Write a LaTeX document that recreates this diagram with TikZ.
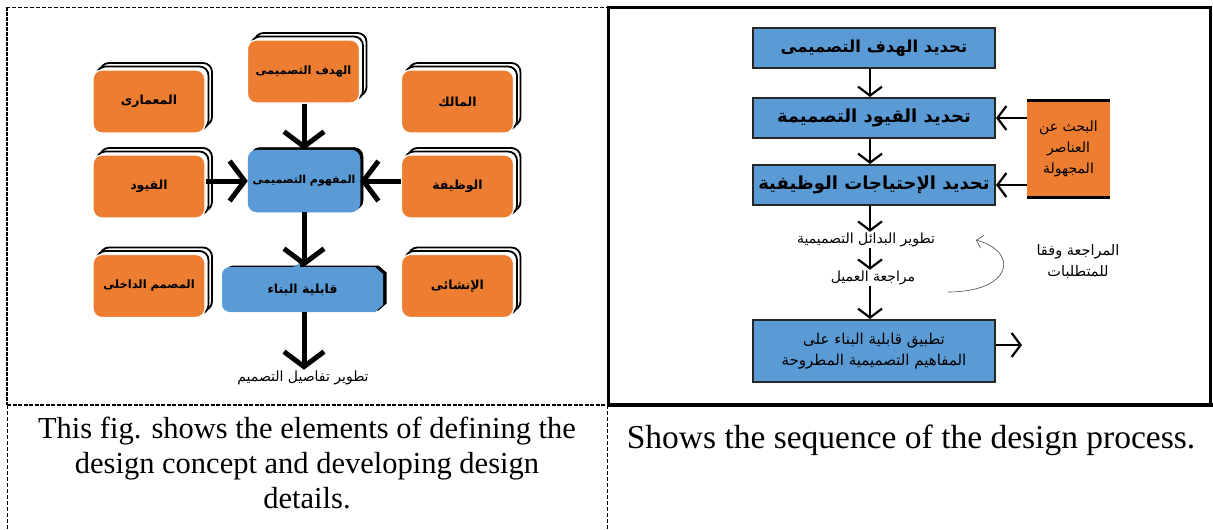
\documentclass[tikz,border=0pt]{standalone}
\usepackage{fontspec}
\setmainfont{Liberation Serif}
\newfontfamily\arabicfont[Script=Arabic]{DejaVu Sans}
\TeXXeTstate=1
\usetikzlibrary{arrows.meta,shadows}
\newcommand\artxt[1]{{\arabicfont\beginR #1\endR}}
\newcommand\arbtxt[1]{{\arabicfont\bfseries\beginR #1\endR}}
\definecolor{orng}{HTML}{ED7D31}
\definecolor{blu}{HTML}{5B9BD5}
\begin{document}
\begin{tikzpicture}[x=1pt,y=-1pt,
  obox/.style={rounded corners=9pt, fill=orng, draw=white, line width=1.2pt,
    minimum width=112pt, minimum height=63pt, inner sep=0pt,
    font=\fontsize{12.5}{16}\selectfont,
    double copy shadow={shadow xshift=3.5pt, shadow yshift=3.5pt, fill=white, draw=black, line width=1.8pt}},
  bbox/.style={rounded corners=9pt, fill=blu, draw=blu, line width=0.5pt,
    minimum width=112pt, minimum height=62pt, inner sep=0pt,
    font=\fontsize{11}{16}\selectfont,
    copy shadow={shadow xshift=3pt, shadow yshift=2.5pt, fill=black, draw=black}},
  cbox/.style={minimum width=161pt, minimum height=45pt, inner sep=0pt,
    font=\fontsize{12.5}{16}\selectfont},
  rbox/.style={fill=blu, draw=black!85, line width=2pt,
    minimum width=242pt, minimum height=40pt, inner sep=0pt,
    font=\fontsize{18}{21}\selectfont, align=center},
  orbox/.style={fill=orng, minimum width=83pt, minimum height=96pt, inner sep=0pt,
    font=\fontsize{14}{21}\selectfont, align=center},
  txt/.style={inner sep=1pt, font=\fontsize{14}{20}\selectfont, align=center},
  bigarr/.style={line width=5pt, -{Straight Barb[length=15pt,width=40pt]}},
  smallarr/.style={line width=2.2pt, -{Straight Barb[length=9pt,width=24pt]}},
  captxt/.style={align=center, inner sep=0pt}
]
\useasboundingbox[fill=white] (0,0) rectangle (1213,530);

% ---------- left diagram ----------
\node[obox] (arch)   at (149,101.5)   {\arbtxt{المعمارى}};
\node[obox, font=\fontsize{11.5}{16}\selectfont] (goal) at (303.5,71.5) {\arbtxt{الهدف التصميمى}};
\node[obox] (owner)  at (457.5,101.5) {\arbtxt{المالك}};
\node[obox] (cons)   at (149,186.5)   {\arbtxt{القيود}};
\node[bbox] (concept) at (304,181)    {\arbtxt{المفهوم التصميمى}};
\node[obox] (func)   at (457.5,186.5) {\arbtxt{الوظيفة}};
\node[obox, font=\fontsize{11.5}{16}\selectfont] (inter) at (149,286) {\arbtxt{المصمم الداخلى}};
\node[obox] (struct) at (457.5,286)   {\arbtxt{الإنشائى}};
% chamfered blue box (rounded left corners, cut right corners) with black shadow
\begin{scope}[xshift=3.5pt, yshift=1.5pt]
  \fill[black] (300,267) -- (375,267) -- (383,274) -- (383,305) -- (375,312) -- (300,312)
    [rounded corners=8pt] -- (222,312) -- (222,267) -- (300,267) [sharp corners] -- cycle;
\end{scope}
\fill[blu] (300,267) -- (375,267) -- (383,274) -- (383,305) -- (375,312) -- (300,312)
    [rounded corners=8pt] -- (222,312) -- (222,267) -- (300,267) [sharp corners] -- cycle;
\node[cbox] (build)  at (302.5,289.5) {\arbtxt{قابلية البناء}};
\node[txt]  (detail) at (303,378)     {\artxt{تطوير تفاصيل التصميم}};

\draw[bigarr] (goal.south -| concept.north) -- (concept.north);
\draw[bigarr] (cons.east |- concept.west) -- (concept.west);
\draw[bigarr] (func.west |- concept.east) -- (concept.east);
\draw[bigarr] (concept.south) -- (build.north -| concept.south);
\draw[bigarr] (build.south -| concept.south) -- (detail.north -| concept.south);

% ---------- right diagram ----------
\coordinate (ax) at (870,0);
\node[rbox, font=\fontsize{16.5}{20}\selectfont] (r1) at (874,48) {\arbtxt{تحديد الهدف التصميمى}};
\node[rbox] (r2) at (874,118) {\arbtxt{تحديد القيود التصميمة}};
\node[rbox] (r3) at (874,185) {\arbtxt{تحديد الإحتياجات الوظيفية}};
\node[txt]  (r4) at (866,240) {\artxt{تطوير البدائل التصميمية}};
\node[txt]  (r5) at (873,278) {\artxt{مراجعة العميل}};
\node[rbox, minimum height=62pt, font=\fontsize{15}{21}\selectfont] (r6) at (874,351)
  {\artxt{تطبيق قابلية البناء على}\\\artxt{المفاهيم التصميمية المطروحة}};
\node[orbox] (search) at (1068.5,149) {\artxt{البحث عن}\\\artxt{العناصر}\\\artxt{المجهولة}};
\draw[line width=3pt] (search.north west) -- (search.north east);
\draw[line width=3pt] (search.south west) -- (search.south east);
\node[txt, font=\fontsize{14.5}{21}\selectfont] (review) at (1078,262) {\artxt{المراجعة وفقا}\\\artxt{للمتطلبات}};

\draw[smallarr] (r1.south -| ax) -- (r2.north -| ax);
\draw[smallarr] (r2.south -| ax) -- (r3.north -| ax);
\draw[smallarr] (r3.south -| ax) -- (r4.north -| ax);
\draw[smallarr] (r4.south -| ax) -- (r5.north -| ax);
\draw[smallarr] (r5.south -| ax) -- (r6.north -| ax);
\draw[smallarr] (search.west |- r2.east) -- (r2.east);
\draw[smallarr] (search.west |- r3.east) -- (r3.east);
\coordinate (out) at (1022,345);
\draw[smallarr] (r6.east |- out) -- (out);
\coordinate (cs) at (948,292);
\coordinate (ce) at (976,240);
\draw[line width=0.6pt, black!70, -{Straight Barb[length=6pt,width=13pt]}]
  (cs) .. controls (1012,292) and (1020,252) .. (ce);

% ---------- table borders ----------
\draw[line width=0.8pt, dash pattern=on 4pt off 2pt] (6,7) -- (607,7);
\draw[line width=2pt, dash pattern=on 4pt off 1pt] (7,7) -- (7,405);
\draw[line width=2.5pt, dash pattern=on 4pt off 1.5pt] (7,405) -- (607,405);
\draw[line width=0.8pt, dash pattern=on 4pt off 2pt] (7,405) -- (7,530);
\draw[line width=0.8pt, dash pattern=on 4pt off 2pt] (607,405) -- (607,530);
\draw[line width=3pt] (608,7) -- (1210.5,7) -- (1210.5,405);
\draw[line width=3pt] (608,5.5) -- (608,405);
\draw[line width=4pt] (607,405) -- (1213,405);

% ---------- captions ----------
\node[captxt, font=\fontsize{30.5}{35}\selectfont] (cap1) at (307,463)
  {This fig. shows the elements of defining the\\design concept and developing design\\details.};
\node[captxt, font=\fontsize{33.5}{38}\selectfont] (cap2) at (911,440)
  {Shows the sequence of the design process.};
\end{tikzpicture}
\end{document}
